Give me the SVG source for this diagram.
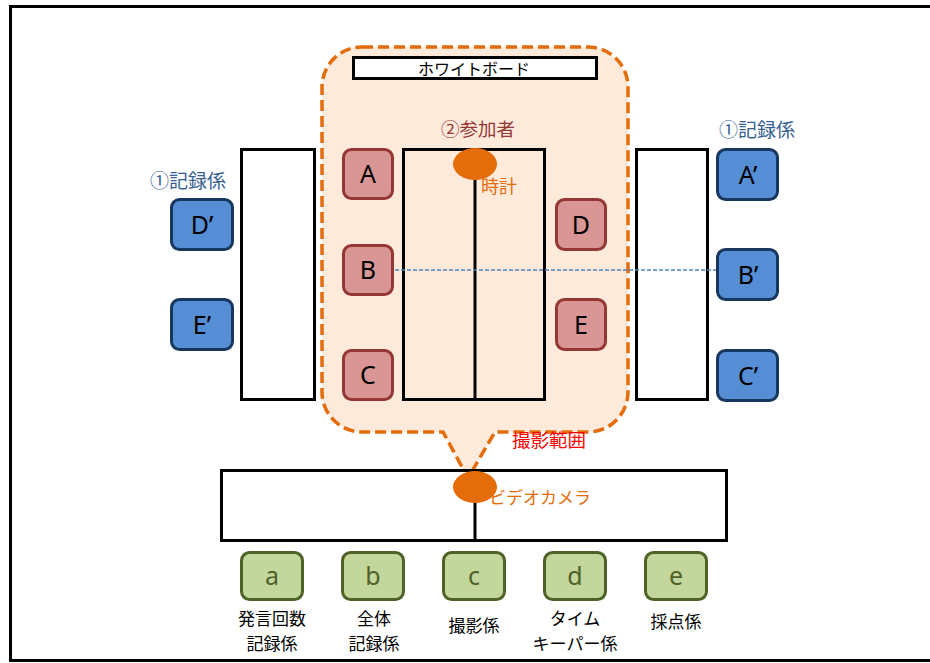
<svg xmlns="http://www.w3.org/2000/svg" width="930" height="663" viewBox="0 0 930 663">
<style>
text{font-family:"Noto Sans CJK JP","Noto Sans",sans-serif;text-anchor:middle}
.tbl{fill:none;stroke:#000;stroke-width:3}
.p rect{fill:#D99694;stroke:#953735;stroke-width:3}
.r rect{fill:#558ED5;stroke:#17375E;stroke-width:3}
.s rect{fill:#C3D69B;stroke:#4F6228;stroke-width:3}
.lt{font-family:"Noto Sans","Open Sans",sans-serif;font-size:25px;fill:#000}
.st{font-family:"Noto Sans","Open Sans",sans-serif;font-size:25px;fill:#4F6228}
.jl{font-size:17px;fill:#000}
.rec{font-size:19px;fill:#376092}
</style>
<rect x="10.5" y="6.5" width="930" height="654" fill="#fff" stroke="#000" stroke-width="3"/>
<g id="range">
<path d="M362,47 H588 A40,40 0 0 1 628,87 V392 A40,40 0 0 1 588,432 H495 L468,478 L443,432 H362 A40,40 0 0 1 322,392 V87 A40,40 0 0 1 362,47 Z" fill="#FDEADA" stroke="#E46C0A" stroke-width="3.5" stroke-dasharray="11,5"/>
</g>
<g id="whiteboard">
<rect x="353.5" y="57.5" width="243" height="21" fill="#fff" stroke="#000" stroke-width="3"/>
<text x="474" y="75" style="font-size:16px" fill="#000">ホワイトボード</text>
</g>
<text x="478" y="136" style="font-size:18.5px" fill="#953735">②参加者</text>
<g id="table">
<rect class="tbl" x="403.5" y="149.5" width="141" height="250"/>
<line x1="475" y1="150" x2="475" y2="400" stroke="#000" stroke-width="3"/>
</g>
<g id="clock">
<ellipse cx="475" cy="164" rx="22" ry="16" fill="#E46C0A"/>
<text x="499" y="193" style="font-size:18px" fill="#E46C0A">時計</text>
</g>
<g id="table-left"><rect class="tbl" x="241.5" y="149.5" width="73" height="250" style="fill:#fff"/></g>
<g id="table-right"><rect class="tbl" x="636.5" y="149.5" width="71" height="250" style="fill:#fff"/></g>
<g id="connectors">
<line x1="395" y1="270" x2="718" y2="270" stroke="#4F81BD" stroke-width="1.3" stroke-dasharray="4,2"/>
</g>
<g id="A" class="p"><rect x="343.5" y="149.5" width="49" height="49" rx="8"/><text class="lt" x="368" y="183">A</text></g>
<g id="B" class="p"><rect x="343.5" y="245.5" width="49" height="49" rx="8"/><text class="lt" x="368" y="279">B</text></g>
<g id="C" class="p"><rect x="343.5" y="350.5" width="49" height="49" rx="8"/><text class="lt" x="368" y="384">C</text></g>
<g id="D" class="p"><rect x="556.5" y="199.5" width="49" height="50" rx="8"/><text class="lt" x="581" y="234">D</text></g>
<g id="E" class="p"><rect x="556.5" y="299.5" width="49" height="50" rx="8"/><text class="lt" x="581" y="334">E</text></g>
<text class="rec" x="188" y="188">①記録係</text>
<text class="rec" x="757" y="137">①記録係</text>
<g id="Dp" class="r"><rect x="171.5" y="199.5" width="61" height="50" rx="8"/><text class="lt" x="202" y="234">D’</text></g>
<g id="Ep" class="r"><rect x="171.5" y="299.5" width="61" height="50" rx="8"/><text class="lt" x="202" y="334">E’</text></g>
<g id="Ap" class="r"><rect x="717.5" y="149.5" width="60" height="50" rx="8"/><text class="lt" x="748" y="184">A’</text></g>
<g id="Bp" class="r"><rect x="717.5" y="249.5" width="60" height="50" rx="8"/><text class="lt" x="748" y="284">B’</text></g>
<g id="Cp" class="r"><rect x="717.5" y="350.5" width="60" height="50" rx="8"/><text class="lt" x="748" y="385">C’</text></g>
<text x="549" y="447" style="font-size:18.5px" fill="#FF0000">撮影範囲</text>
<g id="camera-table">
<rect x="221.5" y="470.5" width="505" height="70" fill="#fff" stroke="#000" stroke-width="3"/>
<line x1="475" y1="490" x2="475" y2="541" stroke="#000" stroke-width="3"/>
</g>
<g id="camera">
<ellipse cx="475" cy="487" rx="22" ry="16" fill="#E46C0A"/>
<text x="540" y="504" style="font-size:17px" fill="#E46C0A">ビデオカメラ</text>
</g>
<g id="a" class="s"><rect x="241.5" y="552.5" width="61" height="47" rx="8"/><text class="st" x="272" y="585">a</text></g>
<g id="b" class="s"><rect x="342.5" y="552.5" width="61" height="47" rx="8"/><text class="st" x="373" y="585">b</text></g>
<g id="c" class="s"><rect x="443.5" y="552.5" width="61" height="47" rx="8"/><text class="st" x="474" y="585">c</text></g>
<g id="d" class="s"><rect x="544.5" y="552.5" width="61" height="47" rx="8"/><text class="st" x="575" y="585">d</text></g>
<g id="e" class="s"><rect x="645.5" y="552.5" width="61" height="47" rx="8"/><text class="st" x="676" y="585">e</text></g>
<text class="jl" x="272" y="625">発言回数</text>
<text class="jl" x="272" y="650">記録係</text>
<text class="jl" x="374" y="625">全体</text>
<text class="jl" x="374" y="650">記録係</text>
<text class="jl" x="474" y="632">撮影係</text>
<text class="jl" x="575" y="625">タイム</text>
<text class="jl" x="575" y="650">キーパー係</text>
<text class="jl" x="676" y="628">採点係</text>
</svg>
